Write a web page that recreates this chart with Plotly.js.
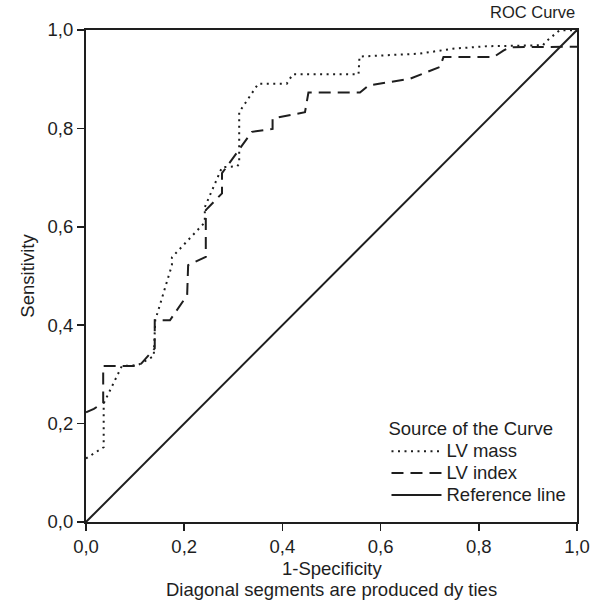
<!DOCTYPE html>
<html>
<head>
<meta charset="utf-8">
<script src="https://cdn.plot.ly/plotly-3.0.1.min.js"></script>
<style>html,body{margin:0;padding:0;background:#fff;}#chart{width:597px;height:601px;}</style>
</head>
<body>
<div id="chart"></div>
<script>
// LV mass ROC curve (dotted)
var massX = [0, 0.036, 0.036, 0.073, 0.106, 0.138, 0.141, 0.175, 0.175, 0.242, 0.242, 0.277, 0.308, 0.312, 0.312, 0.351, 0.409, 0.421, 0.555, 0.557, 0.680, 0.747, 0.816, 0.931, 0.935, 0.964, 1.0];
var massY = [0.129, 0.152, 0.241, 0.317, 0.319, 0.337, 0.410, 0.522, 0.538, 0.609, 0.640, 0.721, 0.723, 0.728, 0.833, 0.891, 0.891, 0.910, 0.910, 0.946, 0.952, 0.962, 0.967, 0.969, 0.975, 0.999, 1.0];
// LV index ROC curve (dashed)
var indexX = [0, 0.016, 0.035, 0.035, 0.108, 0.140, 0.140, 0.171, 0.206, 0.208, 0.244, 0.244, 0.277, 0.277, 0.338, 0.380, 0.380, 0.446, 0.453, 0.558, 0.575, 0.643, 0.660, 0.721, 0.728, 0.830, 0.850, 0.864, 1.0];
var indexY = [0.223, 0.230, 0.242, 0.317, 0.317, 0.353, 0.410, 0.410, 0.461, 0.522, 0.539, 0.634, 0.668, 0.709, 0.793, 0.799, 0.820, 0.833, 0.873, 0.873, 0.887, 0.897, 0.901, 0.925, 0.945, 0.945, 0.958, 0.965, 0.966];
// Reference line
var refX = [0, 1];
var refY = [0, 1];
var seriesNames = ['LV mass', 'LV index', 'Reference line'];
var tickVals = [0, 0.2, 0.4, 0.6, 0.8, 1.0];
var tickText = ["0,0", "0,2", "0,4", "0,6", "0,8", "1,0"];

var ink = '#1e1e1e';
var FS = 18.5;
function big(t) { return '<span style="font-size:' + FS + 'px">' + t + '</span>'; }

var traces = [
  {x: massX, y: massY, name: big(seriesNames[0]), mode: 'lines', line: {color: ink, width: 2, dash: '2px,4.5px'}},
  {x: indexX, y: indexY, name: big(seriesNames[1]), mode: 'lines', line: {color: ink, width: 2, dash: '12px,7px'}},
  {x: refX, y: refY, name: big(seriesNames[2]), mode: 'lines', line: {color: ink, width: 2}}
];

var axisCommon = {
  range: [0, 1],
  tickvals: tickVals,
  ticktext: tickText,
  ticks: 'outside',
  ticklen: 7,
  tickwidth: 1.5,
  tickcolor: ink,
  showline: true,
  mirror: true,
  linecolor: ink,
  linewidth: 2,
  showgrid: false,
  zeroline: false,
  fixedrange: true,
  tickfont: {size: FS, color: ink}
};

var layout = {
  width: 597,
  height: 601,
  margin: {l: 86, r: 20, t: 30, b: 79},
  paper_bgcolor: '#fff',
  plot_bgcolor: '#fff',
  font: {family: '"Liberation Sans", Arial, sans-serif', size: FS, color: ink},
  xaxis: Object.assign({}, axisCommon),
  yaxis: Object.assign({}, axisCommon, {title: {text: 'Sensitivity', font: {size: FS}, standoff: 8}}),
  showlegend: true,
  legend: {
    x: 0.612, y: 0.225, xanchor: 'left', yanchor: 'top',
    bgcolor: 'rgba(0,0,0,0)',
    title: {text: 'Source of the Curve', font: {size: FS}},
    font: {size: 14.5},
    itemwidth: 50,
    tracegroupgap: 0
  },
  annotations: [
    {text: 'ROC Curve', xref: 'paper', yref: 'paper', x: 1, y: 1, xanchor: 'right', yanchor: 'middle', showarrow: false, font: {size: 16.5}, yshift: 18},
    {text: '1-Specificity', xref: 'paper', yref: 'paper', x: 0.5, y: 0, xanchor: 'center', yanchor: 'middle', showarrow: false, font: {size: FS}, yshift: -46},
    {text: 'Diagonal segments are produced dy ties', xref: 'paper', yref: 'paper', x: 0.5, y: 0, xanchor: 'center', yanchor: 'middle', showarrow: false, font: {size: FS}, yshift: -67}
  ]
};

Plotly.newPlot('chart', traces, layout, {displayModeBar: false, staticPlot: true});
</script>
</body>
</html>
